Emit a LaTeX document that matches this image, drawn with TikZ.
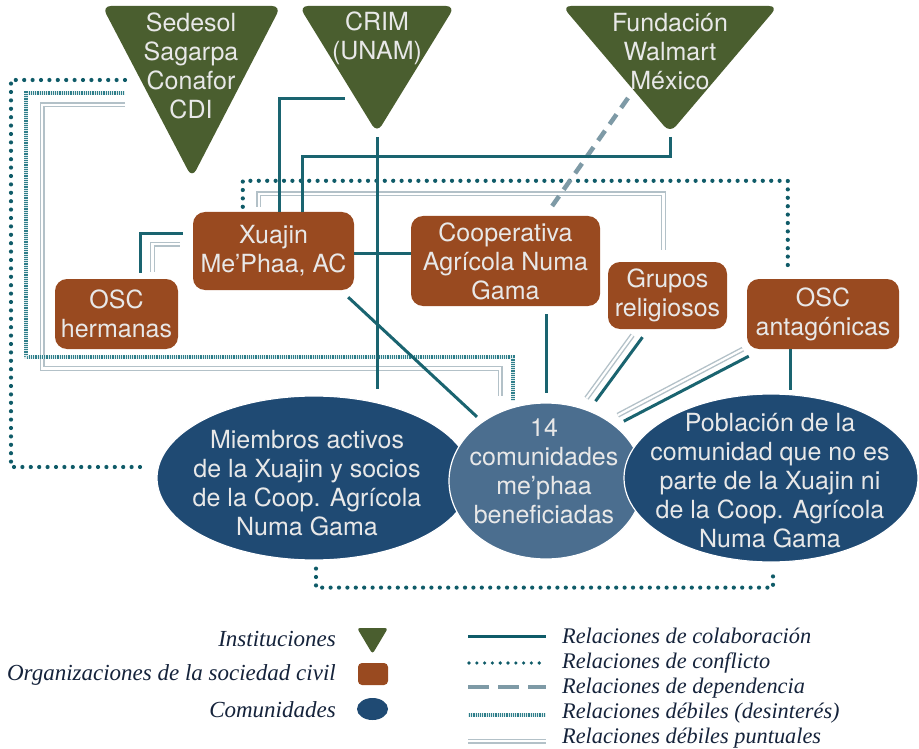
\documentclass[tikz,border=0pt]{standalone}
\usepackage{fontspec}
\setmainfont{TeX Gyre Heros}
\newfontfamily\legserif{Liberation Serif}
\usetikzlibrary{shapes.geometric,calc}
\definecolor{cOlive}{HTML}{4A5E2F}
\definecolor{cRust}{HTML}{994A20}
\definecolor{cNavy}{HTML}{1F4A73}
\definecolor{cMid}{HTML}{4B6E8F}
\definecolor{cTeal}{HTML}{1A6470}
\definecolor{cDot}{HTML}{0F5B68}
\definecolor{cDash}{HTML}{7E9AA6}
\definecolor{cLight}{HTML}{B3C1C8}
\definecolor{cHatch}{HTML}{2E7E8A}
\definecolor{cLeg}{HTML}{15233B}
\definecolor{cTxt}{HTML}{E8E8E8}
\newcommand\nodefont{\fontsize{25}{29}\selectfont}
\newcommand\legendfont{\legserif\itshape\fontsize{22.3}{26}\selectfont}
\newcommand\legendfontL{\legserif\itshape\fontsize{23}{26}\selectfont}
\tikzset{
  itext/.style={align=center, text=cTxt, font=\nodefont, inner sep=0pt},
  osc/.style={rectangle, rounded corners=12pt, fill=cRust, text=cTxt, align=center, inner sep=0pt, font=\nodefont},
  comm/.style={ellipse, fill=cNavy, draw=white, line width=1.2pt, inner sep=0pt},
  collab/.style={draw=cTeal, line width=3pt},
  conflict/.style={draw=cDot, line width=4.2pt, line cap=round, dash pattern=on 0pt off 8.4pt},
  depend/.style={draw=cDash, line width=4.5pt, dash pattern=on 12pt off 8pt},
  weakp/.style={draw=cLight, line width=1.4pt, double=white, double distance=2.2pt},
  weakh/.style={draw=cHatch, line width=4pt, postaction={draw=white!85!cHatch, line width=4pt, dash pattern=on 0.7pt off 1.5pt}},
  legtext/.style={text=cLeg, font=\legendfont, inner sep=0pt},
  legtextL/.style={text=cLeg, font=\legendfontL, inner sep=0pt}
}
\begin{document}
\begin{tikzpicture}[x=1pt,y=-1pt]
\useasboundingbox (0,0) rectangle (919,749);
\fill[white] (0,0) rectangle (919,749);

% institutions (triangles)
\fill[cOlive, rounded corners=9pt] (102,6) -- (281,6) -- (192,178) -- cycle;
\fill[cOlive, rounded corners=9pt] (299,6) -- (455,6) -- (377,133) -- cycle;
\fill[cOlive, rounded corners=9pt] (562,6) -- (778,6) -- (670,133) -- cycle;
\node[itext] (t1) at (191,66) {Sedesol\\Sagarpa\\Conafor\\CDI};
\node[itext] (t2) at (377,38) {CRIM\\(UNAM)};
\node[itext] (t3) at (670,52) {Fundación\\Walmart\\México};
\coordinate (t1d) at (125,80);
\coordinate (t1h) at (125,93);
\coordinate (t1p) at (125,105);
\coordinate (t2w) at (345,99);
\coordinate (t2apex) at (377,128);
\coordinate (t3apex) at (670,128);
\coordinate (t3w) at (628,98);

% civil society organisations
\node[osc, minimum width=161pt, minimum height=78pt] (xuajin) at (273.5,251) {Xuajin\\Me'Phaa, AC};
\node[osc, minimum width=189pt, minimum height=90pt] (coop) at (505.5,261) {Cooperativa\\Agrícola Numa\\Gama};
\node[osc, minimum width=119pt, minimum height=67pt] (grupos) at (667.5,295.5) {Grupos\\religiosos};
\node[osc, minimum width=152pt, minimum height=70pt] (antag) at (823,314) {OSC\\antagónicas};
\node[osc, minimum width=123pt, minimum height=70pt] (herm) at (116.5,314) {OSC\\hermanas};

% communities
\node[comm, minimum width=314pt, minimum height=164pt] (miem) at (314,478) {};
\node[comm, fill=cMid, minimum width=194pt, minimum height=156pt] (com) at (546,481) {};
\node[comm, minimum width=294pt, minimum height=168pt] (pob) at (771,478) {};
\node[itext] (miemtext) at (307,483) {Miembros activos\\de la Xuajin y socios\\de la Coop. Agrícola\\Numa Gama};
\node[itext] (comtext) at (544,471) {14\\comunidades\\me'phaa\\beneficiadas};
\node[itext] (pobtext) at (770,481) {Población de la\\comunidad que no es\\parte de la Xuajin ni\\de la Coop. Agrícola\\Numa Gama};

% weak punctual relations (double)
\draw[weakp] (t1p) -- ++(-83,0) |- ($(com.north)+(-46,-34)$) -- ($(com.north)+(-46,-6)$);
\draw[weakp] ($(xuajin.north west)+(66,-5)$) -- ($(xuajin.north west)+(66,-18)$) -| ($(grupos.north)+(-4,-12)$);
\draw[weakp] ($(grupos.south)+(-35,6)$) -- ($(grupos.south)+(-81,69)$);
\draw[weakp] ($(antag.south west)+(-4,0)$) -- ($(antag.south west)+(-129,66)$);
\draw[weakp] ($(herm.north)+(36,-7)$) |- ($(xuajin.west)+(-13,-7)$);

% weak relations (lack of interest, hatched)
\draw[weakh] (t1h) -- ++(-99,0) |- ($(com.north)+(-33,-45)$) -- ($(com.north)+(-33,-2)$);

% conflict relations (dotted)
\draw[conflict] (t1d) -- ++(-114,0) |- ($(miem.west)+(-10,-11)$);
\draw[conflict] ($(xuajin.north west)+(50,-5)$) -- ($(xuajin.north west)+(50,-31)$) -| ($(antag.north west)+(41,-9)$);
\draw[conflict] ($(miem.south)+(2,8)$) -- ++(0,19) -| ($(pob.south)+(2,6)$);

% dependency (dashed)
\draw[depend] (t3w) -- ($(coop.north)+(44,-6)$);

% collaboration (solid)
\draw[collab] (t2w) -| ($(xuajin.north west)+(87,0)$);
\draw[collab, shorten <=9pt, shorten >=6pt] (t2apex) -- (t2apex |- miem.north);
\draw[collab, shorten <=9pt] (t3apex) |- ($(xuajin.north west)+(110,-55)$) -- ($(xuajin.north west)+(110,0)$);
\draw[collab] ($(xuajin.east)+(0,2)$) -- ($(xuajin.east -| coop.west)+(0,2)$);
\draw[collab, shorten >=7pt] ($(xuajin.south east)+(-6,7)$) -- (com);
\draw[collab, shorten <=8pt, shorten >=9pt] (com.north |- coop.south) -- (com.north);
\draw[collab] ($(grupos.south)+(-25,8)$) -- ($(grupos.south)+(-72,72)$);
\draw[collab] ($(antag.south west)+(2,7)$) -- ($(antag.south west)+(-123,72)$);
\draw[collab] ($(antag.south west)+(44,0)$) -- ($(antag.south west)+(44,41)$);
\draw[collab] ($(herm.north)+(24,-6)$) |- ($(xuajin.west)+(-10,-18)$);

% legend: actors
\fill[cOlive, rounded corners=3pt] (357,628) -- (388,628) -- (372.5,654) -- cycle;
\fill[cRust, rounded corners=4pt] (358,663) rectangle (388,685);
\fill[cNavy] (372.5,709) ellipse [x radius=15.5, y radius=11];
\node[legtextL, anchor=base east] (l1) at (336,646) {Instituciones};
\node[legtextL, anchor=base east] (l2) at (336,680) {Organizaciones de la sociedad civil};
\node[legtextL, anchor=base east] (l3) at (336,717) {Comunidades};

% legend: relations
\draw[collab, draw=cDot] (468,636) -- (546,636);
\draw[conflict, line width=3.6pt, dash pattern=on 0pt off 7.8pt] (469,663) -- (546,663);
\draw[depend, dash pattern=on 21pt off 9pt] (468,687) -- (546,687);
\draw[weakh] (468,715) -- (546,715);
\draw[weakp] (468,741) -- (546,741);
\node[legtext, anchor=base west] (r1) at (562,643) {Relaciones de colaboración};
\node[legtext, anchor=base west] (r2) at (562,668) {Relaciones de conflicto};
\node[legtext, anchor=base west] (r3) at (562,693) {Relaciones de dependencia};
\node[legtext, anchor=base west] (r4) at (562,718) {Relaciones débiles (desinterés)};
\node[legtext, anchor=base west] (r5) at (562,743) {Relaciones débiles puntuales};
\end{tikzpicture}
\end{document}
